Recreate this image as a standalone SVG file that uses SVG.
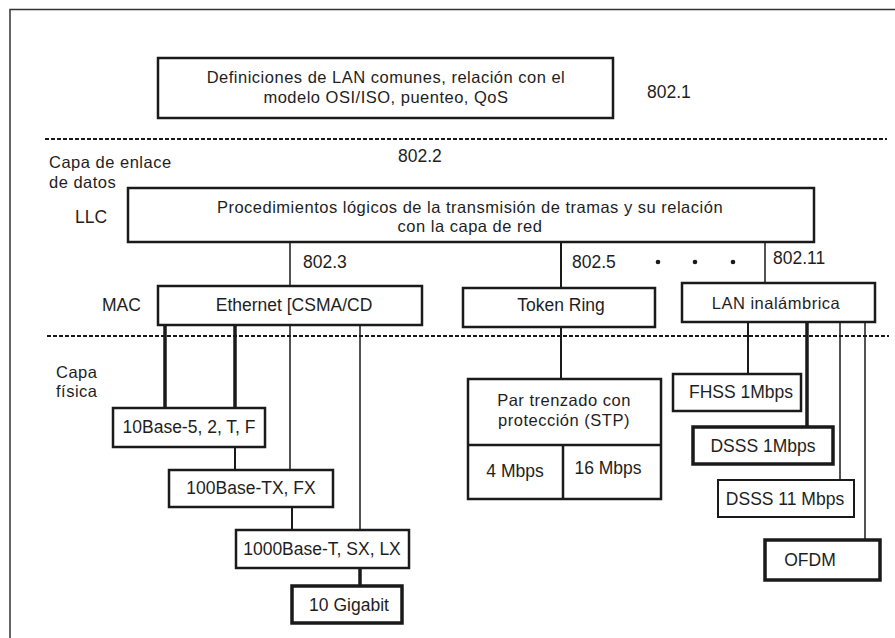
<svg xmlns="http://www.w3.org/2000/svg" width="895" height="638" viewBox="0 0 895 638">
<style>
text{font-family:"Liberation Sans",Arial,sans-serif;font-size:16.5px;letter-spacing:0.5px;fill:#1e1e1e}
.c{text-anchor:middle}
.lb{font-size:17.5px;letter-spacing:0}
.box{fill:#fff;stroke:#1a1a1a;stroke-width:2.5}
.thk{stroke-width:3.5}
.med{stroke-width:2}
.ln{stroke:#1a1a1a;fill:none}
.dash{stroke:#1a1a1a;stroke-width:2;stroke-dasharray:4 2;fill:none}
</style>
<rect width="895" height="638" fill="#fff"/>
<path d="M10 638 V9.5 H895" fill="none" stroke="#333" stroke-width="1.5"/>
<line class="dash" x1="45" y1="139" x2="887" y2="139"/>
<line class="dash" x1="47" y1="336" x2="889" y2="336"/>

<g id="labels">
<text x="647" y="98" class="lb">802.1</text>
<text x="398" y="162" class="lb">802.2</text>
<text x="49" y="168">Capa de enlace</text>
<text x="49" y="188">de datos</text>
<text x="75" y="223" class="lb">LLC</text>
<text x="102" y="311" class="lb">MAC</text>
<text x="56" y="378">Capa</text>
<text x="56" y="397">física</text>
<text x="303" y="268" class="lb">802.3</text>
<text x="572" y="268" class="lb">802.5</text>
<text x="773" y="264" class="lb">802.11</text>
<circle cx="658" cy="262" r="2.3" fill="#1a1a1a"/>
<circle cx="695" cy="262" r="2.3" fill="#1a1a1a"/>
<circle cx="733" cy="262" r="2.3" fill="#1a1a1a"/>
</g>

<g id="connectors" class="ln">
<line x1="290" y1="242" x2="290" y2="286" stroke-width="1.5"/>
<line x1="561" y1="242" x2="561" y2="288" stroke-width="2"/>
<line x1="765" y1="242" x2="765" y2="283" stroke-width="1.5"/>
<line x1="165" y1="325" x2="165" y2="408" stroke-width="3.5"/>
<line x1="235" y1="325" x2="235" y2="408" stroke-width="3.5"/>
<line x1="290" y1="325" x2="290" y2="470" stroke-width="1.5"/>
<line x1="360" y1="325" x2="360" y2="530" stroke-width="1.5"/>
<line x1="235" y1="447" x2="235" y2="470" stroke-width="2"/>
<line x1="292" y1="507" x2="292" y2="530" stroke-width="2"/>
<line x1="360" y1="568" x2="360" y2="586" stroke-width="3.5"/>
<line x1="561" y1="327" x2="561" y2="379" stroke-width="2"/>
<line x1="748" y1="322" x2="748" y2="374" stroke-width="2"/>
<line x1="807" y1="322" x2="807" y2="427" stroke-width="3.5"/>
<line x1="840" y1="322" x2="840" y2="480" stroke-width="1.5"/>
<line x1="865" y1="322" x2="865" y2="540" stroke-width="1.5"/>
</g>

<g id="n8021">
<rect class="box" x="158" y="58" width="455" height="60"/>
<text x="386" y="83" class="c">Definiciones de LAN comunes, relación con el</text>
<text x="386" y="103" class="c">modelo OSI/ISO, puenteo, QoS</text>
</g>
<g id="llc">
<rect class="box" x="128" y="188" width="686" height="54"/>
<text x="470" y="213" class="c">Procedimientos lógicos de la transmisión de tramas y su relación</text>
<text x="470" y="232" class="c">con la capa de red</text>
</g>
<g id="ethernet">
<rect class="box" x="158" y="286" width="264" height="39"/>
<text x="294" y="311" class="c lb">Ethernet [CSMA/CD</text>
</g>
<g id="tokenring">
<rect class="box" x="463" y="288" width="192" height="39"/>
<text x="561" y="311" class="c lb">Token Ring</text>
</g>
<g id="wlan">
<rect class="box" x="682" y="283" width="193" height="39"/>
<text x="776" y="309" class="c">LAN inalámbrica</text>
</g>
<g id="b10base">
<rect class="box" x="113" y="408" width="152" height="39"/>
<text x="189" y="433" class="c lb">10Base-5, 2, T, F</text>
</g>
<g id="b100base">
<rect class="box" x="169" y="470" width="164" height="37"/>
<text x="251" y="494" class="c lb">100Base-TX, FX</text>
</g>
<g id="b1000base">
<rect class="box" x="236" y="530" width="173" height="38"/>
<text x="322" y="555" class="c lb">1000Base-T, SX, LX</text>
</g>
<g id="gigabit10">
<rect class="box thk" x="292" y="586" width="110" height="37"/>
<text x="349" y="611" class="c lb">10 Gigabit</text>
</g>
<g id="stp">
<rect class="box" x="468" y="379" width="193" height="120"/>
<line class="ln" x1="468" y1="445" x2="661" y2="445" stroke-width="2.5"/>
<line class="ln" x1="563" y1="445" x2="563" y2="499" stroke-width="2.5"/>
<text x="564" y="406" class="c">Par trenzado con</text>
<text x="564" y="426" class="c">protección (STP)</text>
<text x="515" y="477" class="c lb">4 Mbps</text>
<text x="608" y="474" class="c lb">16 Mbps</text>
</g>
<g id="fhss">
<rect class="box" x="673" y="374" width="128" height="37"/>
<text x="741" y="398" class="c lb">FHSS 1Mbps</text>
</g>
<g id="dsss1">
<rect class="box thk" x="693" y="427" width="140" height="37"/>
<text x="763" y="452" class="c lb">DSSS 1Mbps</text>
</g>
<g id="dsss11">
<rect class="box med" x="718" y="480" width="136" height="37"/>
<text x="785" y="505" class="c lb">DSSS 11 Mbps</text>
</g>
<g id="ofdm">
<rect class="box thk" x="765" y="540" width="115" height="40"/>
<text x="810" y="566" class="c lb">OFDM</text>
</g>
</svg>
